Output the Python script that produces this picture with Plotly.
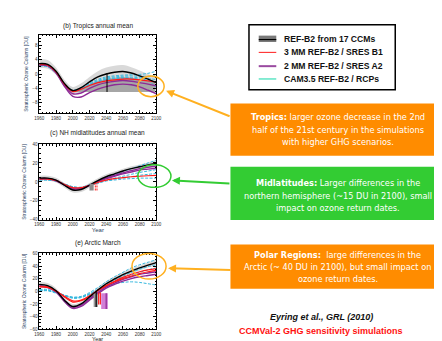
import plotly.graph_objects as go

W, H = 442, 341

# ---------------- data ----------------
years = [1960, 1970, 1980, 1990, 2000, 2010, 2020, 2030, 2040, 2050, 2060, 2070, 2080, 2090, 2100]

# (b) Tropics annual mean
trop_ref = [2.9, 2.7, 0.8, -2.6, -4.6, -3.8, -2.2, -0.8, 0.0, 0.5, 0.7, 0.3, -0.5, -1.4, -2.4]
trop_ref_hw = [1.3, 1.2, 1.0, 1.0, 1.0, 1.2, 1.4, 1.6, 1.8, 1.8, 1.8, 1.6, 1.5, 1.4, 1.3]
trop_red = [[2.6, 2.5, 0.6, -2.8, -4.9, -4.2, -3.2, -2.4, -1.9, -1.6, -1.4, -1.4, -1.6, -1.9, -2.3]]
trop_purple = [[2.5, 2.3, 0.3, -3.4, -6.2, -6.4, -5.2, -4.2, -3.5, -3.0, -2.8, -3.0, -3.6, -4.5, -5.5],
               [2.6, 2.4, 0.5, -3.0, -5.5, -5.3, -4.0, -3.0, -2.4, -2.0, -1.8, -2.0, -2.4, -2.8, -3.3]]
trop_cyan = [[2.5, 2.3, 0.5, -2.8, -4.5, -3.8, -2.5, -1.5, -0.8, -0.5, -0.3, -0.2, -0.1, 0.2, 0.8],
             [2.3, 2.2, 0.4, -2.9, -4.6, -4.0, -2.8, -1.8, -1.1, -0.8, -0.6, -0.5, -0.6, -0.6, -0.5],
             [2.4, 2.1, 0.3, -3.0, -4.7, -4.1, -3.0, -2.0, -1.4, -1.1, -0.9, -0.9, -1.0, -1.2, -1.6],
             [2.2, 2.0, 0.2, -3.1, -4.8, -4.2, -3.1, -2.2, -1.6, -1.3, -1.2, -1.2, -1.4, -1.8, -3.8]]
trop_dark_years = [2005, 2010, 2020, 2030, 2040, 2050, 2060, 2070, 2080, 2090, 2098]
trop_dark_top = [-4.6, -4.0, -2.8, -2.0, -1.4, -1.0, -0.8, -1.0, -1.4, -1.9, -2.3]
trop_dark_bottom = [-5.0] * 11
trop_return_year = 2041
trop_return_lo, trop_return_hi = -5.0, 0.3

# (c) NH midlatitudes annual mean
mid_ref = [4.0, 4.0, 2.0, -3.5, -8.5, -8.0, -3.5, 1.5, 5.5, 8.5, 11.5, 14.0, 16.0, 18.0, 19.5]
mid_ref_hw = [2.5] * 15
mid_red = [[3.0, 3.0, 1.5, -2.5, -6.0, -6.0, -3.5, -0.5, 2.0, 3.5, 4.5, 5.5, 6.0, 6.5, 7.0]]
mid_purple = [[3.5, 3.5, 1.5, -3.0, -7.5, -7.0, -3.5, 0.5, 4.0, 7.0, 9.5, 12.0, 14.0, 15.5, 16.5],
              [3.2, 3.2, 1.2, -3.2, -7.0, -6.8, -3.8, 0.0, 3.5, 6.0, 8.5, 10.5, 12.5, 13.5, 14.5]]
mid_cyan = [[2.5, 2.5, 1.5, -2.0, -5.0, -5.5, -3.0, 0.0, 4.0, 8.0, 11.0, 14.0, 17.0, 20.0, 23.0],
            [2.3, 2.3, 1.2, -2.2, -5.2, -5.8, -3.2, -0.5, 2.0, 4.0, 6.0, 8.0, 10.0, 11.5, 13.0],
            [2.0, 2.0, 1.0, -2.5, -5.5, -6.0, -3.5, -1.0, 1.5, 3.0, 4.5, 5.5, 7.0, 8.0, 9.0],
            [2.2, 2.1, 1.0, -2.3, -5.3, -6.0, -3.8, -1.5, 1.0, 2.0, 3.0, 3.5, 4.0, 4.0, 4.0]]
mid_return_x = [2020, 2025]
mid_return_y = [-9.0, -2.0]

# (e) Arctic March
arc_ref = [11.0, 9.0, 1.0, -14.0, -24.0, -20.0, -9.0, 2.0, 12.0, 19.5, 26.5, 32.0, 37.0, 41.5, 45.5]
arc_ref_hw = [4.0] * 15
arc_red = [[7.0, 6.0, 0.0, -8.0, -15.0, -14.0, -7.0, 2.0, 9.0, 15.0, 20.0, 24.0, 28.0, 31.0, 33.0],
           [8.0, 7.0, 1.0, -9.0, -17.0, -15.0, -8.0, 1.0, 9.0, 16.0, 22.0, 27.0, 31.0, 34.0, 36.0]]
arc_purple = [[8.0, 6.0, -1.0, -16.0, -27.0, -24.0, -14.0, -4.0, 5.0, 11.0, 16.0, 20.0, 23.0, 25.0, 27.0],
              [9.0, 7.0, 0.0, -14.0, -25.0, -22.0, -12.0, -2.0, 7.0, 13.0, 19.0, 23.0, 27.0, 29.0, 31.0]]
arc_cyan = [[2.0, 2.0, -2.0, -6.0, -9.0, -8.0, -2.0, 6.0, 15.0, 23.0, 30.0, 37.0, 42.0, 46.0, 50.0],
            [3.0, 3.0, -1.0, -6.0, -10.0, -9.0, -4.0, 3.0, 11.0, 18.0, 24.0, 30.0, 35.0, 39.0, 42.0],
            [0.0, 1.0, -2.0, -7.0, -11.0, -10.0, -5.0, 2.0, 9.0, 15.0, 21.0, 26.0, 30.0, 34.0, 37.0],
            [1.0, 1.0, -3.0, -7.0, -10.0, -9.0, -4.0, 2.0, 8.0, 12.0, 14.0, 15.0, 14.0, 12.0, 10.0]]
arc_return_gray_x = [2025, 2030]
arc_return_gray_y = [-25.0, -4.0]
arc_return_black_year = 2028
arc_return_black_y = [-25.0, 0.0]
arc_return_red_years = [2031, 2033]
arc_return_red_y = [-21.0, -2.0]
arc_return_mag_x = [2034, 2042]
arc_return_mag_y = [-28.0, -3.0]

x_ticks = [1960, 1980, 2000, 2020, 2040, 2060, 2080, 2100]

legend_labels = ["REF-B2 from 17 CCMs", "3 MM REF-B2 / SRES B1", "2 MM REF-B2 / SRES A2", "CAM3.5 REF-B2 / RCPs"]

# ---------------- styles ----------------
BLACK = "#000000"
RED = "#ff1a1a"
PURPLE = "#8e2a96"
CYAN = "#38b8de"
LIGHTGREY = "#d9d9d9"
DARKGREY = "#a6a6a6"
ORANGE = "#ff8c00"
GREEN = "#33cc33"


def px(x):
    return x / W


def py(y):
    return 1 - y / H


panels = [
    dict(ref=trop_ref, hw=trop_ref_hw, red=trop_red, purple=trop_purple, cyan=trop_cyan,
         ytop=25, ybot=105, yr=[-11, 11], dt=4, mdt=1, title="(b) Tropics annual mean", ty=16, xtitle=False),
    dict(ref=mid_ref, hw=mid_ref_hw, red=mid_red, purple=mid_purple, cyan=mid_cyan,
         ytop=136, ybot=213, yr=[-40, 40], dt=20, mdt=5, title="(c) NH midlatitudes annual mean", ty=125, xtitle=True),
    dict(ref=arc_ref, hw=arc_ref_hw, red=arc_red, purple=arc_purple, cyan=arc_cyan,
         ytop=247, ybot=324, yr=[-60, 60], dt=20, mdt=5, title="(e) Arctic March", ty=236, xtitle=False),
]

fig = go.Figure()
annotations = []
shapes = []

for i, p in enumerate(panels):
    k = "" if i == 0 else str(i + 1)
    xa, ya = "x" + k, "y" + k
    up = [r + h for r, h in zip(p["ref"], p["hw"])]
    lo = [r - h for r, h in zip(p["ref"], p["hw"])]
    fig.add_trace(go.Scatter(x=years + years[::-1], y=up + lo[::-1], fill="toself", fillcolor=LIGHTGREY,
                             line=dict(width=0, shape="spline"), mode="lines", xaxis=xa, yaxis=ya,
                             showlegend=False, hoverinfo="skip"))
    if i == 0:
        fig.add_trace(go.Scatter(x=trop_dark_years + trop_dark_years[::-1],
                                 y=trop_dark_top + trop_dark_bottom[::-1], fill="toself", fillcolor=DARKGREY,
                                 line=dict(width=0, shape="spline"), mode="lines", xaxis=xa, yaxis=ya,
                                 showlegend=False, hoverinfo="skip"))
    for c in p["cyan"]:
        fig.add_trace(go.Scatter(x=years, y=c, mode="lines", line=dict(color=CYAN, width=1, dash="3px,1.5px", shape="spline"),
                                 xaxis=xa, yaxis=ya, showlegend=False))
    for c in p["purple"]:
        fig.add_trace(go.Scatter(x=years, y=c, mode="lines", line=dict(color=PURPLE, width=1.4, shape="spline"),
                                 xaxis=xa, yaxis=ya, showlegend=False))
    for c in p["red"]:
        fig.add_trace(go.Scatter(x=years, y=c, mode="lines", line=dict(color=RED, width=1.2, shape="spline"),
                                 xaxis=xa, yaxis=ya, showlegend=False))
    fig.add_trace(go.Scatter(x=years, y=p["ref"], mode="lines", line=dict(color=BLACK, width=1.4, shape="spline"),
                             xaxis=xa, yaxis=ya, showlegend=False))

    if i == 0:
        fig.add_trace(go.Scatter(x=[trop_return_year, trop_return_year], y=[trop_return_lo, trop_return_hi],
                                 mode="lines", line=dict(color=BLACK, width=1), xaxis=xa, yaxis=ya, showlegend=False))
    if i == 1:
        fig.add_trace(go.Scatter(x=[mid_return_x[0], mid_return_x[1], mid_return_x[1], mid_return_x[0]],
                                 y=[mid_return_y[0], mid_return_y[0], mid_return_y[1], mid_return_y[1]],
                                 fill="toself", fillcolor="#8c8c8c", mode="lines", line=dict(width=0),
                                 xaxis=xa, yaxis=ya, showlegend=False))
        for yv in [mid_return_x[1] + 2, mid_return_x[1] + 4]:
            fig.add_trace(go.Scatter(x=[yv, yv], y=mid_return_y, mode="lines",
                                     line=dict(color=RED, width=1, dash="2px,1px"), xaxis=xa, yaxis=ya, showlegend=False))
    if i == 2:
        fig.add_trace(go.Scatter(x=[arc_return_gray_x[0], arc_return_gray_x[1], arc_return_gray_x[1], arc_return_gray_x[0]],
                                 y=[arc_return_gray_y[0], arc_return_gray_y[0], arc_return_gray_y[1], arc_return_gray_y[1]],
                                 fill="toself", fillcolor="#9a9a9a", mode="lines", line=dict(width=0),
                                 xaxis=xa, yaxis=ya, showlegend=False))
        fig.add_trace(go.Scatter(x=[arc_return_mag_x[0], arc_return_mag_x[1], arc_return_mag_x[1], arc_return_mag_x[0]],
                                 y=[arc_return_mag_y[0], arc_return_mag_y[0], arc_return_mag_y[1], arc_return_mag_y[1]],
                                 fill="toself", fillcolor="#d27fd6", mode="lines", line=dict(width=0),
                                 xaxis=xa, yaxis=ya, showlegend=False))
        fig.add_trace(go.Scatter(x=[arc_return_black_year] * 2, y=arc_return_black_y, mode="lines",
                                 line=dict(color=BLACK, width=1.2), xaxis=xa, yaxis=ya, showlegend=False))
        for yv in arc_return_red_years:
            fig.add_trace(go.Scatter(x=[yv, yv], y=arc_return_red_y, mode="lines",
                                     line=dict(color=RED, width=1.2), xaxis=xa, yaxis=ya, showlegend=False))
        fig.add_trace(go.Scatter(x=[arc_return_mag_x[1] - 2] * 2, y=arc_return_mag_y, mode="lines",
                                 line=dict(color=PURPLE, width=1.2), xaxis=xa, yaxis=ya, showlegend=False))

    axis_common = dict(showline=True, linecolor="black", linewidth=1, mirror="ticks", ticks="inside",
                       ticklen=3, tickcolor="black", tickwidth=1, showgrid=False, zeroline=False,
                       tickfont=dict(family="Liberation Sans, Arial", size=4.5, color="#333"))
    fig.update_layout(**{
        "xaxis" + k: dict(domain=[px(27), px(147)], range=[1960, 2100], tickvals=x_ticks, anchor=ya,
                          minor=dict(ticks="inside", ticklen=1.5, dtick=4, tickcolor="black"),
                          ticklabelstandoff=0,
                          title=dict(text="Year" if p["xtitle"] else "", font=dict(size=6, family="Liberation Sans, Arial"), standoff=0),
                          **axis_common),
        "yaxis" + k: dict(domain=[py(p["ybot"]), py(p["ytop"])], range=p["yr"], dtick=p["dt"], anchor=xa,
                          minor=dict(ticks="inside", ticklen=1.5, dtick=p["mdt"], tickcolor="black"),
                          title=dict(text="Stratospheric Ozone Column [DU]", font=dict(size=5, family="Liberation Sans, Arial"), standoff=3),
                          **axis_common),
    })
    annotations.append(dict(x=px(87), y=py(p["ty"]), xref="paper", yref="paper", text=p["title"], showarrow=False,
                            font=dict(family="Liberation Sans, Arial", size=6.5, color="#222"), xanchor="center", yanchor="middle"))

# bottom panel x title (placed just above the page edge)
annotations.append(dict(x=px(87), y=py(338.5), xref="paper", yref="paper", text="Year", showarrow=False,
                        xanchor="center", yanchor="bottom",
                        font=dict(family="Liberation Sans, Arial", size=5.5, color="#222")))

# ---------------- legend box ----------------
shapes.append(dict(type="rect", xref="paper", yref="paper", x0=px(242), x1=px(392), y0=py(81), y1=py(15),
                   line=dict(color="black", width=1.5), fillcolor="white"))
leg_y = [29, 43, 57, 70]
shapes.append(dict(type="rect", xref="paper", yref="paper", x0=px(252), x1=px(270), y0=py(32.5), y1=py(26),
                   line=dict(width=0), fillcolor="#7a7a7a"))
shapes.append(dict(type="line", xref="paper", yref="paper", x0=px(252), x1=px(270), y0=py(30), y1=py(30),
                   line=dict(color="black", width=1.2)))
shapes.append(dict(type="line", xref="paper", yref="paper", x0=px(252), x1=px(270), y0=py(43), y1=py(43),
                   line=dict(color=RED, width=1)))
shapes.append(dict(type="line", xref="paper", yref="paper", x0=px(252), x1=px(270), y0=py(57), y1=py(57),
                   line=dict(color="#9a4aa0", width=2)))
shapes.append(dict(type="line", xref="paper", yref="paper", x0=px(252), x1=px(270), y0=py(70), y1=py(70),
                   line=dict(color="#10d8a8", width=1)))
for lab, yy in zip(legend_labels, leg_y):
    annotations.append(dict(x=px(276), y=py(yy), xref="paper", yref="paper", text="<b>%s</b>" % lab, showarrow=False,
                            xanchor="left", yanchor="middle", font=dict(family="Liberation Sans, Arial", size=8.6, color="#111")))

# ---------------- coloured boxes ----------------
boxes = [
    (ORANGE, 95, 148, [(109, "<b>Tropics:</b> larger ozone decrease in the 2nd"),
                       (122, "half of the 21st century in the simulations"),
                       (134, "with higher GHG scenarios.")]),
    (GREEN, 159, 213, [(176, "<b>Midlatitudes:</b> Larger differences in the"),
                       (189, "northern hemisphere (~15 DU in 2100), small"),
                       (201, "impact on ozone return dates.")]),
    (ORANGE, 238, 283, [(249, "<b>Polar Regions:</b>  large differences in the"),
                        (261, "Arctic (~ 40 DU in 2100), but small impact on"),
                        (273, "ozone return dates.")]),
]
for col, y0, y1, lines in boxes:
    shapes.append(dict(type="rect", xref="paper", yref="paper", x0=px(223), x1=px(442), y0=py(y1), y1=py(y0),
                       line=dict(width=0), fillcolor=col))
    for yy, t in lines:
        annotations.append(dict(x=px(333), y=py(yy), xref="paper", yref="paper", text=t, showarrow=False,
                                xanchor="center", yanchor="middle",
                                font=dict(family="DejaVu Sans", size=8.2, color="white")))

# ellipses and arrows
shapes.append(dict(type="circle", xref="paper", yref="paper", x0=px(128), x1=px(155), y0=py(88), y1=py(67),
                   line=dict(color="#ffb020", width=1.5)))
shapes.append(dict(type="circle", xref="paper", yref="paper", x0=px(128), x1=px(162), y0=py(180), y1=py(157),
                   line=dict(color=GREEN, width=1.5)))
shapes.append(dict(type="circle", xref="paper", yref="paper", x0=px(122), x1=px(157), y0=py(273), y1=py(247),
                   line=dict(color="#ffb020", width=1.5)))
for hx, hy, ax, ay, col in [(157, 82, 65, 26, "#ffb020"), (163, 173, 59, 3, GREEN), (159, 262, 64, 2, "#ffb020")]:
    annotations.append(dict(x=px(hx), y=py(hy), xref="paper", yref="paper", text="", showarrow=True,
                            ax=ax, ay=ay, arrowcolor=col, arrowwidth=2, arrowhead=2, arrowsize=0.8))

# citation
annotations.append(dict(x=px(316), y=py(312), xref="paper", yref="paper", text="<b><i>Eyring et al., GRL (2010)</i></b>",
                        showarrow=False, xanchor="center", yanchor="middle",
                        font=dict(family="Liberation Sans, Arial", size=9, color="#111")))
annotations.append(dict(x=px(316), y=py(326), xref="paper", yref="paper", text="<b>CCMVal-2 GHG sensitivity simulations</b>",
                        showarrow=False, xanchor="center", yanchor="middle",
                        font=dict(family="Liberation Sans, Arial", size=9, color="#ff1010")))

fig.update_layout(width=W, height=H, margin=dict(l=0, r=0, t=0, b=0), paper_bgcolor="white",
                  plot_bgcolor="white", showlegend=False, shapes=shapes, annotations=annotations)

fig.write_html("out.html")
